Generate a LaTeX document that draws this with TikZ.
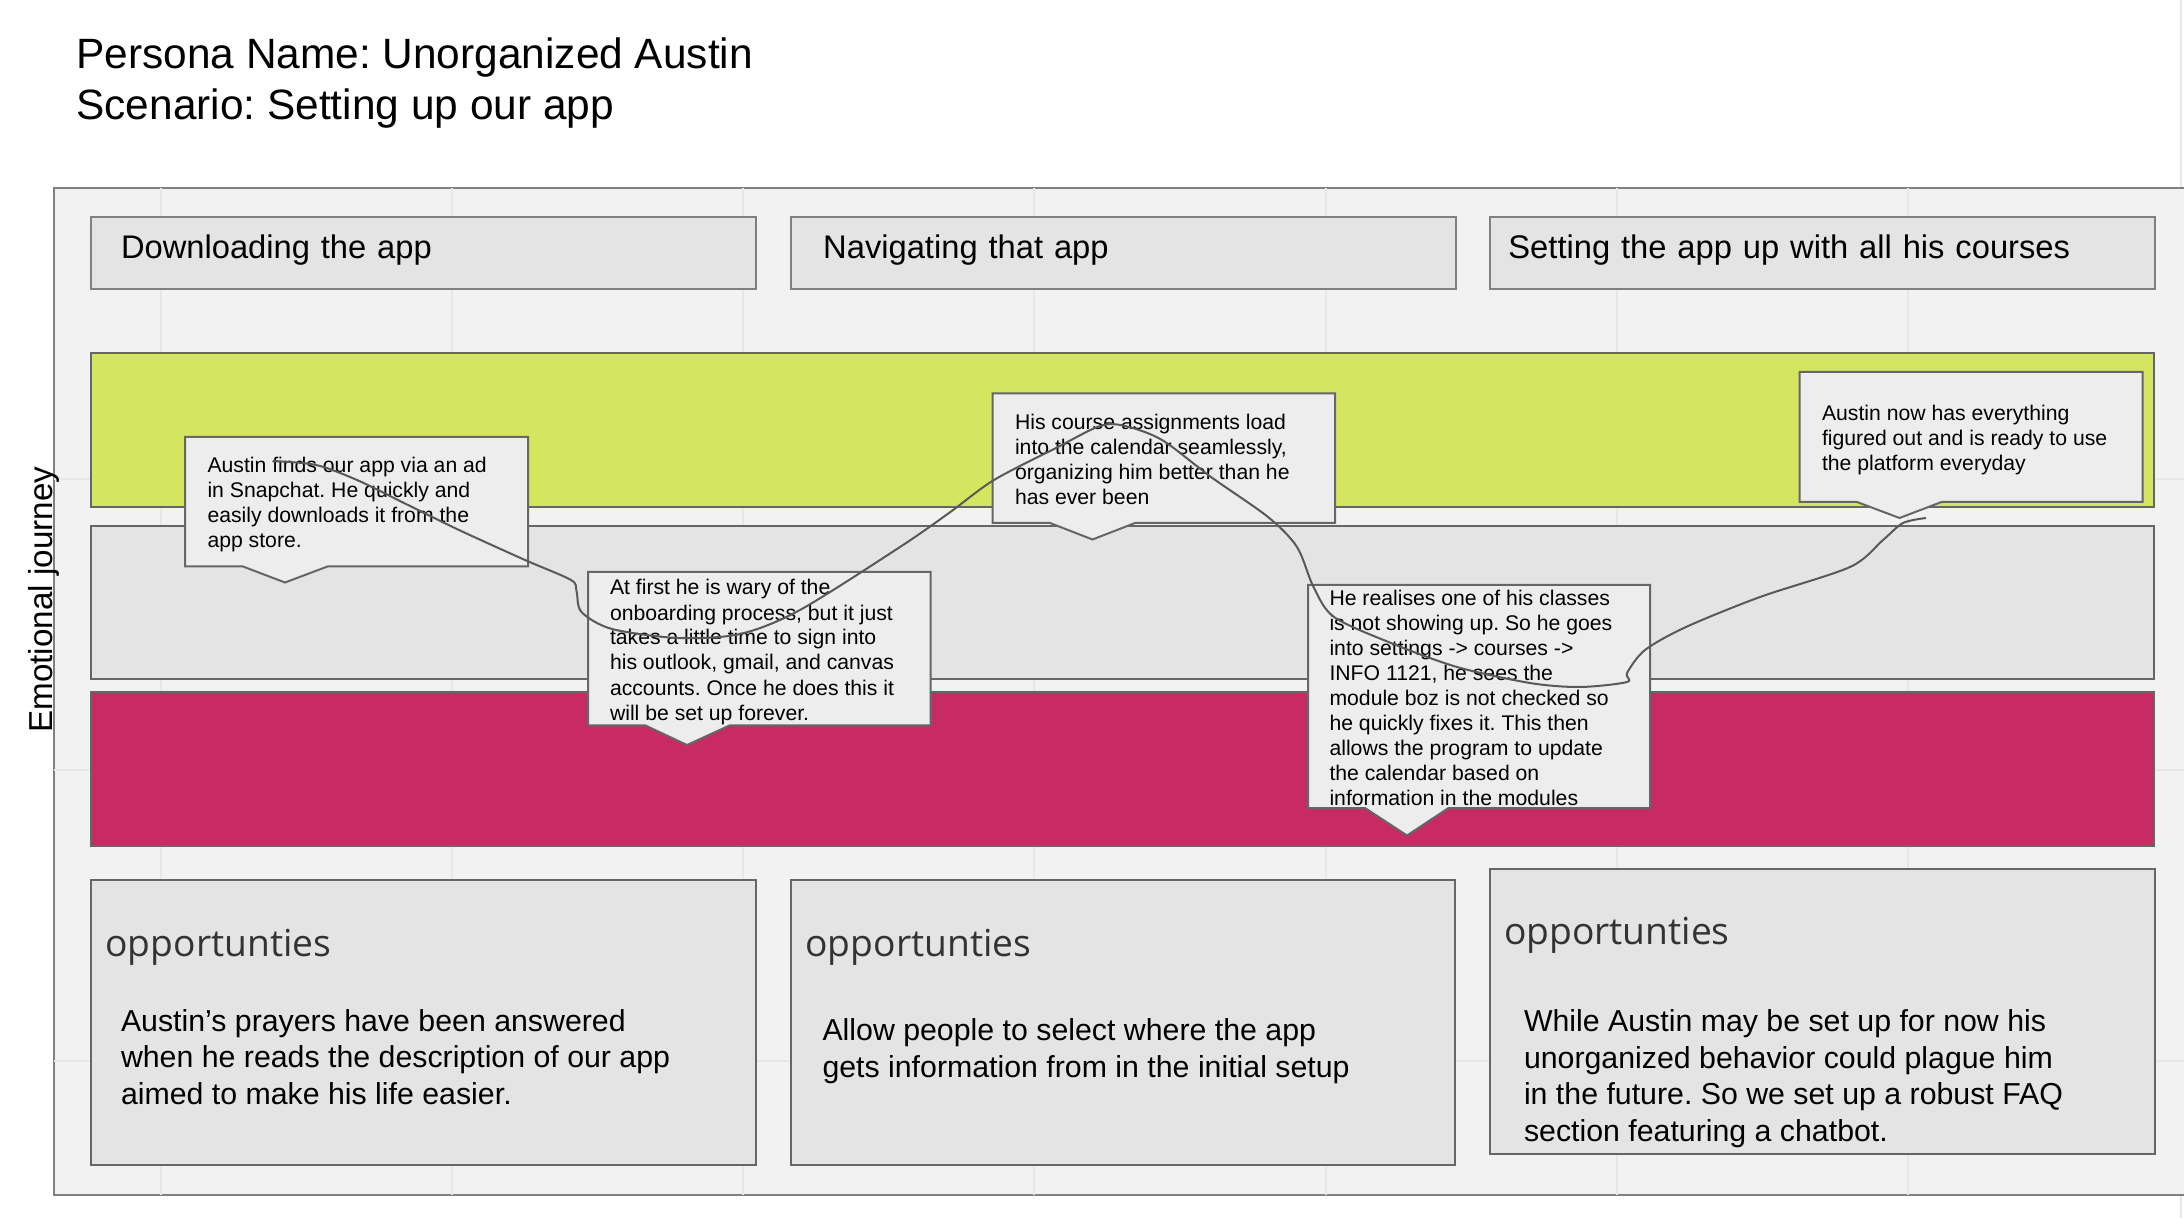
\documentclass[tikz,border=0pt]{standalone}
\usepackage{fontspec}
\setmainfont{Liberation Sans}
\newfontfamily\opensans{Open Sans}
\usetikzlibrary{positioning}
\definecolor{panelfill}{HTML}{F2F2F2}
\definecolor{gridgray}{HTML}{E7E7E7}
\definecolor{boxfill}{HTML}{E4E4E4}
\definecolor{bubblefill}{HTML}{EDEDED}
\definecolor{happygreen}{HTML}{D4E660}
\definecolor{sadred}{HTML}{C82A63}
\definecolor{edgegray}{HTML}{666666}
\definecolor{softgray}{HTML}{808080}
\definecolor{headgray}{HTML}{333333}
\frenchspacing

\begin{document}
\begin{tikzpicture}[x=0.5pt, y=-0.5pt, line width=1pt]
        \tikzset{
           stage/.style={
                        rectangle,
                        draw=softgray,
                        fill=boxfill,
                        anchor=north west,
                        outer sep=0pt,
                        inner ysep=0pt,
                        inner xsep=15pt,
                        text width=302.3pt,
                        minimum height=36pt,
                        text height=20.4pt,
                        text depth=15.6pt,
                        align=left,
                        font=\fontsize{16.35pt}{20pt}\selectfont
                       },
           mood/.style={
                        rectangle,
                        draw=edgegray,
                        anchor=north west,
                        outer sep=0pt,
                        minimum width=1031.5pt,
                        minimum height=76.6pt
                       },
           chance/.style={
                        rectangle,
                        draw=edgegray,
                        fill=boxfill,
                        anchor=north west,
                        outer sep=0pt,
                        minimum width=332.3pt,
                        minimum height=142.5pt
                       },
           bubble/.style={
                        draw=edgegray,
                        fill=bubblefill,
                        line join=miter
                       },
           saying/.style={
                        anchor=base west,
                        inner sep=0pt,
                        align=left,
                        font=\fontsize{10.6pt}{12.5pt}\selectfont
                       },
           chancehead/.style={
                        anchor=base west,
                        inner sep=0pt,
                        text=headgray,
                        font=\opensans\fontsize{18.6pt}{22pt}\selectfont
                       },
           chancetext/.style={
                        anchor=base west,
                        inner sep=0pt,
                        align=left,
                        font=\fontsize{15.15pt}{18.2pt}\selectfont
                       },
           gridline/.style={draw=gridgray},
           journeyline/.style={draw=black!65, line width=1pt, line join=round}
                 };
        \useasboundingbox (0,0) rectangle (2184,1218);
        %----------------
        \draw[gridline, line width=0.7pt] (2181,0) -- (2181,1218);
        \fill[panelfill] (54,188) rectangle (2184,1195);
        \draw[draw=softgray] (2184,188) -- (54,188) -- (54,1195) -- (2184,1195);
        \foreach \x in {161,452,743,1034,1326,1617,1908}
            \draw[gridline] (\x,188) -- (\x,1195);
        \foreach \y in {479,770,1061}
            \draw[gridline] (54,\y) -- (2184,\y);
        %----------------
        \node[anchor=base west, inner sep=0pt, align=left, font=\fontsize{21.2pt}{25.5pt}\selectfont] (title) at (75.5,119.5) {Persona Name: Unorganized Austin\\Scenario: Setting up our app};
        \node[anchor=base west, inner sep=0pt, rotate=90, font=\fontsize{16.6pt}{20pt}\selectfont] (journey) at (52,733.5) {Emotional journey};
        %----------------
        \node[stage] (download) at (91,217.5) {Downloading the app};
        \node[stage, inner xsep=16pt, text width=300.3pt] (navigate) [right=17.8pt of download] {Navigating that app};
        \node[stage, inner xsep=9pt, text width=314.3pt] (setup) [right=17.3pt of navigate] {Setting the app up with all his courses};
        %----------------
        \node[mood, fill=happygreen] (happy) at (91,353.5) {};
        \node[mood, fill=boxfill] (neutral) [below=9.65pt of happy] {};
        \node[mood, fill=sadred] (sad) [below=6.6pt of neutral] {};
        %----------------
        \node[chance] (chanceOne) at (91,880) {};
        \node[chance] (chanceTwo) at (790.5,880) {};
        \node[chance] (chanceThree) at (1490,869) {};
        \node[chancehead] (headOne) at (104.5,956) {opportunties};
        \node[chancehead] (headTwo) at (804.5,956) {opportunties};
        \node[chancehead] (headThree) at (1503,944.5) {opportunties};
        \node[chancetext] (textOne) at (120,1104.3) {Austin’s prayers have been answered\\when he reads the description of our app\\aimed to make his life easier.};
        \node[chancetext] (textTwo) at (821.5,1077) {Allow people to select where the app\\gets information from in the initial setup};
        \node[chancetext] (textThree) at (1523,1141) {While Austin may be set up for now his\\unorganized behavior could plague him\\in the future. So we set up a robust FAQ\\section featuring a chatbot.};
        %----------------
        \draw[bubble] (185,437) -- (528,437) -- (528,566.5) -- (327.5,566.5) -- (285,582.5) -- (243,566.5) -- (185,566.5) -- cycle;
        \draw[bubble] (588,572) -- (930.5,572) -- (930.5,725.5) -- (729.5,725.5) -- (687,745) -- (645.5,725.5) -- (588,725.5) -- cycle;
        \draw[bubble] (992.5,393.5) -- (1335,393.5) -- (1335,523) -- (1135,523) -- (1092.5,539.5) -- (1050,523) -- (992.5,523) -- cycle;
        \draw[bubble] (1308,585) -- (1650,585) -- (1650,808) -- (1448.5,808) -- (1407,835.5) -- (1365,808) -- (1308,808) -- cycle;
        \draw[bubble] (1799.5,372) -- (2142.5,372) -- (2142.5,502) -- (1941.5,502) -- (1899.5,518) -- (1857,502) -- (1799.5,502) -- cycle;
        \node[saying] (finds) at (206.5,548) {Austin finds our app via an ad\\in Snapchat. He quickly and\\easily downloads it from the\\app store.};
        \node[saying] (wary) at (609,720) {At first he is wary of the\\onboarding process, but it just\\takes a little time to sign into\\his outlook, gmail, and canvas\\accounts. Once he does this it\\will be set up forever.};
        \node[saying] (loads) at (1014,504.3) {His course assignments load\\into the calendar seamlessly,\\organizing him better than he\\has ever been};
        \node[saying] (realises) at (1328.5,805.3) {He realises one of his classes\\is not showing up. So he goes\\into settings -> courses ->\\INFO 1121, he sees the\\module boz is not checked so\\he quickly fixes it. This then\\allows the program to update\\the calendar based on\\information in the modules};
        \node[saying] (ready) at (1821,471) {Austin now has everything\\figured out and is ready to use\\the platform everyday};
        %----------------
        \coordinate (curveStart) at (273,461);
        \coordinate (curveEnd) at (1926,518);
        \draw[journeyline] plot[smooth, tension=0.5] coordinates {(curveStart) (316,465) (357,480) (408,505) (459,530) (525,560) (571,580) (576.5,591) (581.5,612) (612,629) (678,638) (740,634) (800,610) (900,547) (949,513) (994,480) (1056,448) (1100,426) (1125,426) (1162,440) (1211,477) (1268,517) (1297,547) (1313.5,587) (1334,617) (1391,643) (1457,667) (1530,683) (1580,687) (1627,682) (1627,673) (1645,650) (1686,627) (1760,597) (1850,567) (1883,540) (1903,523) (curveEnd)};
\end{tikzpicture}
\end{document}
